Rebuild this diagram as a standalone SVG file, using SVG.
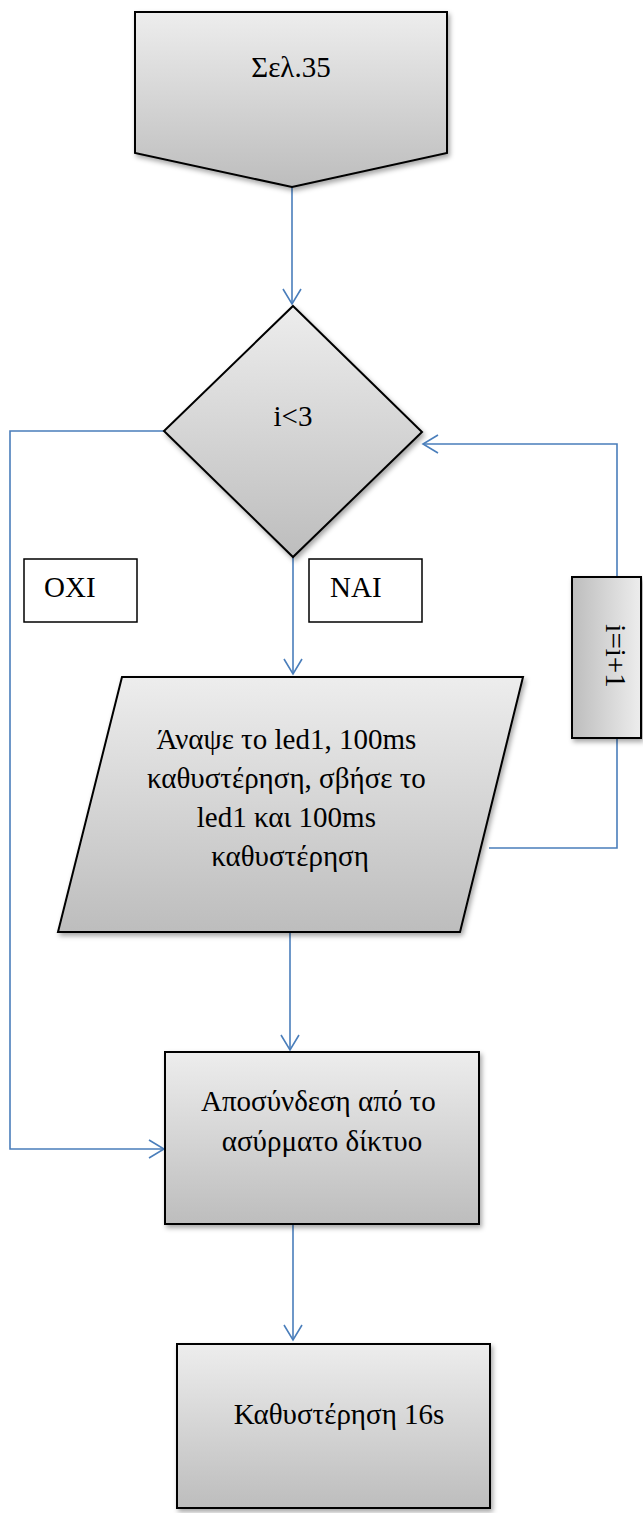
<svg xmlns="http://www.w3.org/2000/svg" width="643" height="1513" viewBox="0 0 643 1513">
  <defs>
    <linearGradient id="fillV" x1="0" y1="0" x2="0" y2="1">
      <stop offset="0" stop-color="#ededed"/>
      <stop offset="1" stop-color="#bdbdbd"/>
    </linearGradient>
    <linearGradient id="fillH" x1="1" y1="0" x2="0" y2="0">
      <stop offset="0" stop-color="#ededed"/>
      <stop offset="1" stop-color="#bdbdbd"/>
    </linearGradient>
    <filter id="shadow" x="-10%" y="-10%" width="130%" height="130%">
      <feDropShadow dx="2" dy="3" stdDeviation="2.5" flood-color="#000" flood-opacity="0.35"/>
    </filter>
    <marker id="open" markerUnits="userSpaceOnUse" markerWidth="20" markerHeight="20" refX="16" refY="10" orient="auto" viewBox="0 0 20 20">
      <path d="M 1 1 L 16 10 L 1 19" fill="none" stroke="#4a7ebb" stroke-width="1.6"/>
    </marker>
  </defs>
  <style>
    .shape { stroke: #000; stroke-width: 2; filter: url(#shadow); }
    .label { stroke: #000; stroke-width: 1.5; fill: #fff; }
    .txt { font-family: "Liberation Serif", "DejaVu Serif", serif; font-size: 29px; fill: #000; }
    .conn { fill: none; stroke: #4a7ebb; stroke-width: 1.6; }
    .arrow { marker-end: url(#open); }
  </style>

  <!-- connectors -->
  <g id="connectors">
    <path class="conn arrow" d="M 292 187 L 292 304"/>
    <path class="conn arrow" d="M 293 557 L 293 674"/>
    <path class="conn arrow" d="M 290 932 L 290 1050"/>
    <path class="conn arrow" d="M 293 1224 L 293 1340"/>
    <path class="conn arrow" d="M 164 431 L 10 431 L 10 1149 L 164 1149"/>
    <path class="conn arrow" d="M 617 577 L 617 444 L 423 444"/>
    <path class="conn" d="M 617 738 L 617 848 L 489 848"/>
  </g>

  <!-- start: off-page connector -->
  <g id="start">
    <path class="shape" fill="url(#fillV)" d="M 135 12 L 447 12 L 447 153 L 292 187 L 135 153 Z"/>
    <text class="txt" x="291" y="77" text-anchor="middle">Σελ.35</text>
  </g>

  <!-- decision -->
  <g id="decision">
    <path class="shape" fill="url(#fillV)" d="M 293 306 L 422 432 L 293 557 L 164 431 Z"/>
    <text class="txt" x="293" y="426" text-anchor="middle">i&lt;3</text>
  </g>

  <!-- branch labels -->
  <g id="label-no">
    <rect class="label" x="24" y="559" width="113" height="63"/>
    <text class="txt" x="44" y="597">OXI</text>
  </g>
  <g id="label-yes">
    <rect class="label" x="309" y="559" width="113" height="63"/>
    <text class="txt" x="330" y="597">NAI</text>
  </g>

  <!-- blink step -->
  <g id="blink">
    <path class="shape" fill="url(#fillV)" d="M 122 677 L 523 677 L 460 932 L 58 932 Z"/>
    <text class="txt" text-anchor="middle">
      <tspan x="290" y="749">Άναψε το led1, 100ms</tspan>
      <tspan x="290" y="788">καθυστέρηση, σβήσε το</tspan>
      <tspan x="290" y="827">led1 και 100ms</tspan>
      <tspan x="290" y="866">καθυστέρηση</tspan>
    </text>
  </g>

  <!-- counter increment -->
  <g id="increment">
    <rect class="shape" fill="url(#fillH)" x="572" y="577" width="69" height="161"/>
    <text class="txt" transform="translate(606 656) rotate(90)" text-anchor="middle">i=i+1</text>
  </g>

  <!-- disconnect -->
  <g id="disconnect">
    <rect class="shape" fill="url(#fillV)" x="165" y="1052" width="314" height="172"/>
    <text class="txt" text-anchor="middle">
      <tspan x="322" y="1111">Αποσύνδεση από το</tspan>
      <tspan x="322" y="1151">ασύρματο δίκτυο</tspan>
    </text>
  </g>

  <!-- delay -->
  <g id="delay">
    <rect class="shape" fill="url(#fillV)" x="177" y="1344" width="313" height="164"/>
    <text class="txt" x="339" y="1424" text-anchor="middle">Καθυστέρηση 16s</text>
  </g>
</svg>
